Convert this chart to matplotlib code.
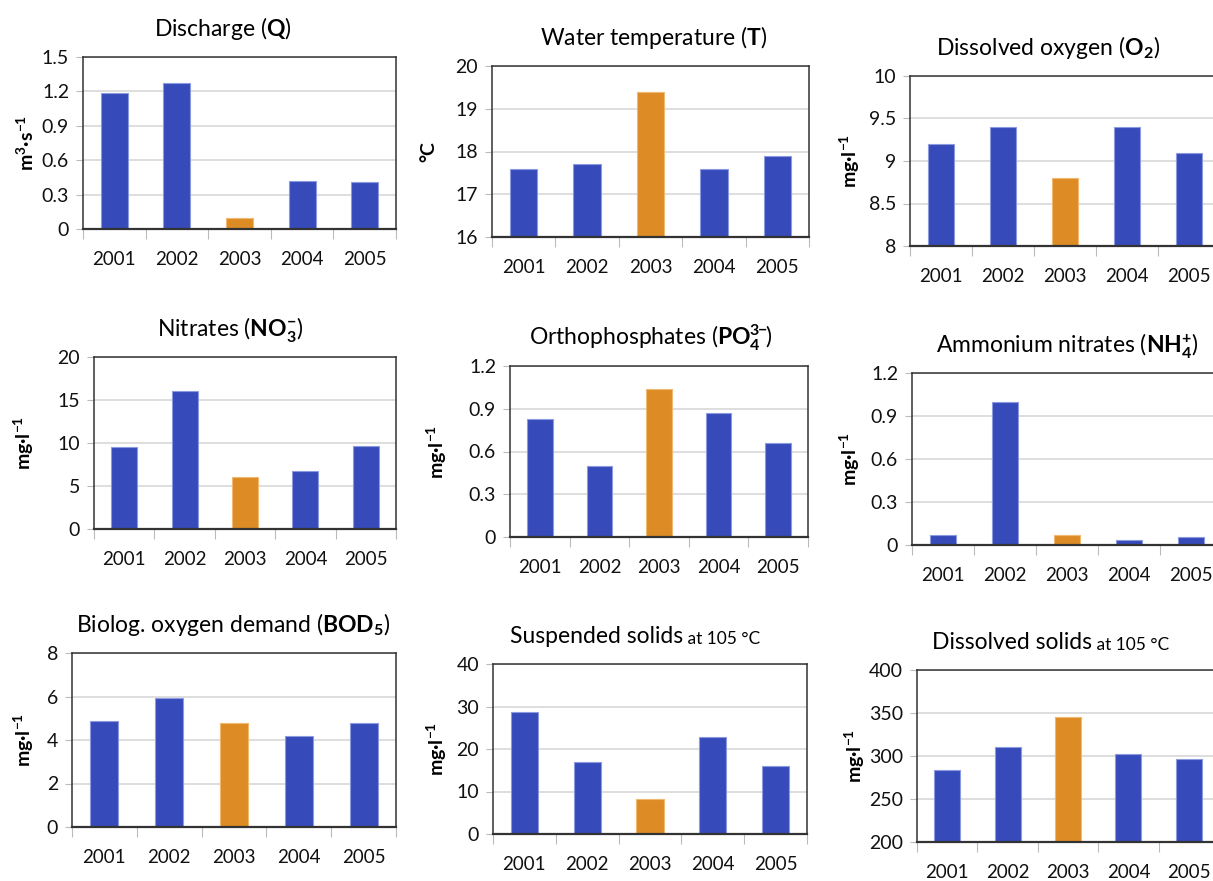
import matplotlib
matplotlib.use("Agg")
import matplotlib.pyplot as plt
from matplotlib.ticker import FixedLocator, FixedFormatter

plt.rcParams['font.family'] = ['Lato', 'DejaVu Sans']
plt.rcParams['mathtext.fontset'] = 'custom'
plt.rcParams['mathtext.rm'] = 'Lato'
plt.rcParams['mathtext.it'] = 'Lato:italic'
plt.rcParams['mathtext.bf'] = 'Lato:bold'

# ---------------- data ----------------
years = ["2001", "2002", "2003", "2004", "2005"]
highlight_year = "2003"

discharge = [1.19, 1.27, 0.10, 0.42, 0.41]
water_temp = [17.6, 17.7, 19.4, 17.6, 17.9]
dissolved_o2 = [9.2, 9.4, 8.8, 9.4, 9.1]
nitrates = [9.5, 16.1, 6.0, 6.8, 9.7]
orthophosphates = [0.83, 0.50, 1.04, 0.87, 0.66]
ammonium = [0.068, 1.00, 0.068, 0.035, 0.058]
bod5 = [4.86, 5.94, 4.80, 4.20, 4.80]
suspended_solids = [28.8, 17.0, 8.2, 22.9, 15.9]
dissolved_solids = [283.6, 311.0, 345.8, 302.0, 296.0]

yt_discharge = [0, 0.3, 0.6, 0.9, 1.2, 1.5]
yl_discharge = ["0", "0.3", "0.6", "0.9", "1.2", "1.5"]
yt_temp = [16, 17, 18, 19, 20]
yl_temp = ["16", "17", "18", "19", "20"]
yt_o2 = [8, 8.5, 9, 9.5, 10]
yl_o2 = ["8", "8.5", "9", "9.5", "10"]
yt_nitr = [0, 5, 10, 15, 20]
yl_nitr = ["0", "5", "10", "15", "20"]
yt_po4 = [0, 0.3, 0.6, 0.9, 1.2]
yl_po4 = ["0", "0.3", "0.6", "0.9", "1.2"]
yt_nh4 = [0, 0.3, 0.6, 0.9, 1.2]
yl_nh4 = ["0", "0.3", "0.6", "0.9", "1.2"]
yt_bod = [0, 2, 4, 6, 8]
yl_bod = ["0", "2", "4", "6", "8"]
yt_ss = [0, 10, 20, 30, 40]
yl_ss = ["0", "10", "20", "30", "40"]
yt_ds = [200, 250, 300, 350, 400]
yl_ds = ["200", "250", "300", "350", "400"]

titles = [
    r"Discharge ($\mathbf{Q}$)",
    r"Water temperature ($\mathbf{T}$)",
    r"Dissolved oxygen ($\mathbf{O_2}$)",
    r"Nitrates ($\mathbf{NO_3^{-}}$)",
    r"Orthophosphates ($\mathbf{PO_4^{3\!\!-\!\!}}$)",
    r"Ammonium nitrates ($\mathbf{NH_4^{+}}$)",
    r"Biolog. oxygen demand ($\mathbf{BOD_5}$)",
    "Suspended solids",
    "Dissolved solids",
]
title_suffix = " at 105 °C"
ylabel_q = r"m$^{\mathbf{3}}$·s$^{\mathbf{-1}}$"
ylabel_t = "°C"
ylabel_mg = r"mg·l$^{\mathbf{-1}}$"

BLUE = "#364BB9"
ORANGE = "#DC8B25"
EDGE_BLUE = "#8C9BE0"
EDGE_OR = "#F0B870"

W, H = 1213, 881
fig = plt.figure(figsize=(W / 100, H / 100), dpi=100)


def rect(l, t, r, b):
    return [l / W, 1 - b / H, (r - l) / W, (b - t) / H]


# panel layout: (left, top, right, bottom) pixels, ylabel centre x pixel, title x frac
panels = [
    (discharge, yt_discharge, yl_discharge, ylabel_q, (83, 57, 396, 229), 28, 0.447, False),
    (water_temp, yt_temp, yl_temp, ylabel_t, (492, 66, 809, 237), 428, 0.511, False),
    (dissolved_o2, yt_o2, yl_o2, ylabel_mg, (910, 76, 1220, 246), 853, 0.445, False),
    (nitrates, yt_nitr, yl_nitr, ylabel_mg, (94, 357, 396, 529), 27, 0.45, False),
    (orthophosphates, yt_po4, yl_po4, ylabel_mg, (510, 366, 808, 537), 440, 0.473, False),
    (ammonium, yt_nh4, yl_nh4, ylabel_mg, (912, 373, 1222, 545), 853, 0.5, False),
    (bod5, yt_bod, yl_bod, ylabel_mg, (72, 653, 396, 827), 27, 0.497, False),
    (suspended_solids, yt_ss, yl_ss, ylabel_mg, (493, 664, 807, 834), 440, 0.33, True),
    (dissolved_solids, yt_ds, yl_ds, ylabel_mg, (917, 670, 1219, 842), 858, 0.315, True),
]

x = list(range(len(years)))
for i, (vals, yt, yl, ylab, box, ylx, tx, suffix) in enumerate(panels):
    ax = fig.add_axes(rect(*box))
    colors = [ORANGE if y == highlight_year else BLUE for y in years]
    edges = [EDGE_OR if y == highlight_year else EDGE_BLUE for y in years]
    ax.bar(x, vals, width=0.43, color=colors, edgecolor=edges, linewidth=0.8, zorder=3)
    ax.set_xlim(-0.5, len(years) - 0.5)
    ax.set_ylim(yt[0], yt[-1])
    ax.yaxis.set_major_locator(FixedLocator(yt))
    ax.yaxis.set_major_formatter(FixedFormatter(yl))
    ax.set_xticks(x)
    ax.set_xticklabels(years)
    ax.set_xticks([v - 0.5 for v in range(len(years) + 1)], minor=True)
    ax.tick_params(axis='x', which='major', length=0, pad=16, labelsize=13.5, colors='#111111')
    ax.tick_params(axis='x', which='minor', length=7, width=0.8, color='#BBBBBB')
    ax.tick_params(axis='y', which='major', length=5, width=0.8, pad=5, labelsize=14,
                   color='#BBBBBB', labelcolor='#111111')
    ax.grid(axis='y', color='#D8D8D8', linewidth=1.2, zorder=0)
    for s in ['top', 'right', 'left']:
        ax.spines[s].set_color('#333333')
        ax.spines[s].set_linewidth(1.1)
    ax.spines['bottom'].set_color('#333333')
    ax.spines['bottom'].set_linewidth(1.6)
    ax.spines['bottom'].set_zorder(4)
    ax.set_ylabel(ylab, fontsize=14, fontweight='bold')
    l, t, r, b = box
    ax.yaxis.set_label_coords((ylx + 9 - l) / (r - l), 0.5)
    title = ax.set_title(titles[i], fontsize=16.5, pad=15, x=tx)
    if suffix:
        ax.annotate(title_suffix, xy=(1, 0), xycoords=title, ha='left', va='bottom',
                    fontsize=12.5)

fig.savefig("out.png", dpi=100)
